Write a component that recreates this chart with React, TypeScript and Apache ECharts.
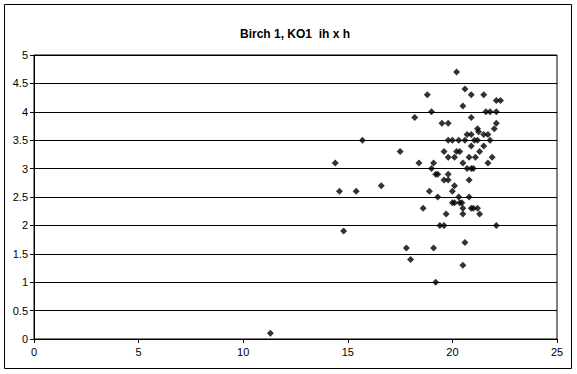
import React, { useEffect, useRef } from "react";
import * as echarts from "echarts";

const titleText = "Birch 1, KO1  ih x h";
const xTicks = [0, 5, 10, 15, 20, 25];
const yTicks = [0, 0.5, 1, 1.5, 2, 2.5, 3, 3.5, 4, 4.5, 5];

const xValues = [
  11.3, 14.4, 14.6, 14.8, 15.4, 15.7, 16.6, 17.5, 17.8, 18.0,
  18.2, 18.4, 18.6, 18.8, 18.9, 19.0, 19.0, 19.1, 19.1, 19.2,
  19.3, 19.2, 19.3, 19.4, 19.6, 19.5, 19.8, 19.6, 19.6, 19.8,
  19.8, 19.8, 19.8, 20.0, 19.7, 20.0, 20.0, 20.1, 20.1, 20.1,
  20.2, 20.2, 20.3, 20.3, 20.35, 20.35, 20.45, 20.5, 20.5, 20.5,
  20.5, 20.5, 20.6, 20.6, 20.6, 20.7, 20.7, 20.8, 20.8, 20.8,
  20.9, 20.9, 20.9, 20.9, 20.9, 20.9, 21.0, 21.0, 21.05, 21.1,
  21.2, 21.2, 21.25, 21.2, 21.3, 21.3, 21.5, 21.5, 21.5, 21.6,
  21.7, 21.7, 21.8, 21.8, 21.9, 22.0, 22.1, 22.3, 22.1, 22.1,
  22.1,
];
const yValues = [
  0.1, 3.1, 2.6, 1.9, 2.6, 3.5, 2.7, 3.3, 1.6, 1.4,
  3.9, 3.1, 2.3, 4.3, 2.6, 4.0, 3.0, 3.1, 1.6, 2.9,
  2.9, 1.0, 2.5, 2.0, 2.0, 3.8, 3.8, 3.3, 2.8, 2.8,
  2.9, 3.2, 3.5, 3.5, 2.2, 2.6, 2.4, 2.4, 2.7, 3.2,
  3.3, 4.7, 2.5, 3.5, 3.3, 2.4, 2.4, 2.3, 2.2, 3.1,
  4.1, 1.3, 4.4, 3.5, 1.7, 3.6, 3.0, 3.2, 2.8, 2.5,
  4.3, 3.9, 3.6, 3.4, 3.0, 2.3, 3.0, 2.3, 3.5, 3.2,
  3.5, 3.7, 3.65, 2.3, 3.3, 2.2, 4.3, 3.6, 3.4, 4.0,
  3.6, 3.1, 4.0, 3.5, 3.2, 3.7, 4.2, 4.2, 4.0, 3.8,
  2.0,
];

export default function App() {
  const ref = useRef<HTMLDivElement>(null);
  useEffect(() => {
    if (!ref.current) return;
    const chart = echarts.init(ref.current, null, { renderer: "svg" });
    const font = "Arial, 'Liberation Sans', sans-serif";
    const data = xValues.map((x, i) => [x, yValues[i]]);
    chart.setOption({
      animation: false,
      backgroundColor: "#ffffff",
      title: {
        text: titleText,
        left: 290,
        top: 23,
        textAlign: "center",
        textStyle: { fontFamily: font, fontSize: 12, fontWeight: "bold", color: "#000" },
      },
      grid: { left: 34, right: 20, top: 55, bottom: 35, show: true, borderColor: "#000", borderWidth: 1, backgroundColor: "transparent" },
      xAxis: {
        type: "value",
        min: xTicks[0],
        max: xTicks[xTicks.length - 1],
        interval: 5,
        axisLine: { show: true, onZero: false, lineStyle: { color: "#000", width: 1 } },
        axisTick: { show: true, length: 4, inside: false, lineStyle: { color: "#000" } },
        axisLabel: { color: "#000", fontFamily: font, fontSize: 11, margin: 7 },
        splitLine: { show: false },
      },
      yAxis: {
        type: "value",
        min: yTicks[0],
        max: yTicks[yTicks.length - 1],
        interval: 0.5,
        axisLine: { show: true, onZero: false, lineStyle: { color: "#000", width: 1 } },
        axisTick: { show: true, length: 4, inside: false, lineStyle: { color: "#000" } },
        axisLabel: { color: "#000", fontFamily: font, fontSize: 11, margin: 6 },
        splitLine: { show: true, lineStyle: { color: "#000", width: 1 } },
      },
      graphic: [
        {
          type: "rect",
          shape: { x: 4.5, y: 4.5, width: 567, height: 364 },
          style: { fill: "none", stroke: "#000", lineWidth: 1 },
          silent: true,
        },
      ],
      series: [
        {
          type: "scatter",
          data,
          symbol: "diamond",
          symbolSize: 7,
          itemStyle: { color: "#000" },
        },
      ],
    });
    return () => chart.dispose();
  }, []);
  return (
    <div
      ref={ref}
      style={{ position: "fixed", left: 0, top: 0, width: 577, height: 374 }}
    />
  );
}
